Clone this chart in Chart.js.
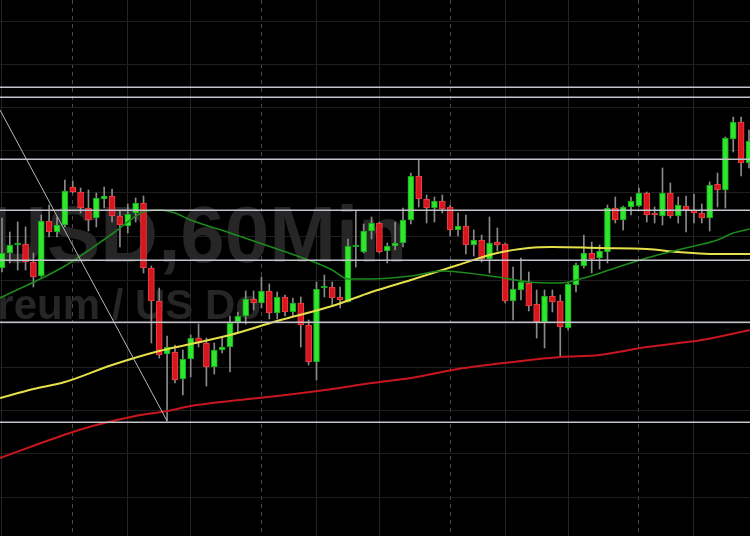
<!DOCTYPE html>
<html>
<head>
<meta charset="utf-8">
<script src="https://cdn.jsdelivr.net/npm/chart.js@4.4.1/dist/chart.umd.min.js"></script>
<style>
html,body{margin:0;padding:0;background:#000;}
canvas{display:block;}
</style>
</head>
<body>
<canvas id="grafico" width="750" height="536"></canvas>
<script>
// velas de 60 minutos (ETHUSD)
const apertura = [
  1766, 1773.5, 1777.5, 1778, 1769, 1762, 1789.5, 1784, 1787.5, 1806.5,
  1804, 1796, 1791, 1800.5, 1802, 1792, 1787, 1793.5, 1798.5, 1766,
  1749.5, 1723, 1724, 1710.5, 1720.5, 1731, 1728.5, 1716.5, 1725, 1726.5,
  1739, 1742, 1750.5, 1748.5, 1754.5, 1743.5, 1751.5, 1744, 1748.5, 1737.5,
  1719, 1756, 1756.5, 1751.5, 1749, 1776.5, 1774, 1784.5, 1788.5, 1774.5,
  1777, 1778.5, 1790, 1812, 1800.5, 1796, 1799.5, 1796.5, 1785, 1787,
  1777.5, 1780, 1770.5, 1779, 1778, 1749.5, 1755, 1758.5, 1748, 1739,
  1752, 1749.5, 1736, 1757.5, 1767, 1773.5, 1771, 1774, 1796, 1790,
  1796.5, 1797, 1803.5, 1793, 1792, 1803.5, 1792, 1797, 1795, 1793.5,
  1791, 1808, 1805, 1830.5, 1839, 1818.5
];
const maximo = [
  1791, 1784, 1789, 1786.5, 1773.5, 1792.5, 1797.5, 1791.5, 1810, 1809.5,
  1806, 1805, 1803.5, 1806.5, 1805.5, 1794.5, 1798, 1801, 1802, 1767,
  1756, 1732, 1727.5, 1725, 1732.5, 1738, 1731, 1728.5, 1731.5, 1742,
  1744, 1754.5, 1754.5, 1761.5, 1758, 1754, 1752.5, 1751, 1751.5, 1740,
  1759, 1762.5, 1759, 1756.5, 1780.5, 1794.5, 1788, 1791.5, 1789, 1778.5,
  1789, 1796, 1813.5, 1820, 1802.5, 1801.5, 1802.5, 1797.5, 1793.5, 1792.5,
  1785, 1782.5, 1791.5, 1786, 1778.5, 1766.5, 1771, 1764, 1755, 1755,
  1755, 1752.5, 1759, 1768.5, 1782.5, 1779, 1777.5, 1797.5, 1801.5, 1797,
  1801.5, 1806, 1804, 1796.5, 1816, 1808.5, 1801.5, 1802, 1803, 1798,
  1809, 1813.5, 1831.5, 1841.5, 1841.5, 1835
];
const minimo = [
  1764, 1768.5, 1765, 1765, 1756.5, 1761.5, 1781.5, 1781.5, 1786.5, 1803.5,
  1793.5, 1784.5, 1786.5, 1796, 1789, 1776.5, 1783.5, 1789, 1763.5, 1728.5,
  1721, 1689.5, 1708.5, 1702.5, 1711.5, 1726.5, 1707, 1713, 1723.5, 1714,
  1733.5, 1738, 1745, 1746, 1740.5, 1740.5, 1742, 1741.5, 1726.5, 1717.5,
  1710, 1751.5, 1747.5, 1746, 1749, 1766.5, 1773.5, 1780.5, 1773.5, 1768.5,
  1775, 1776.5, 1788, 1796.5, 1788.5, 1789, 1793.5, 1782, 1782, 1773,
  1772, 1769, 1763.5, 1774.5, 1748.5, 1740, 1750, 1744.5, 1731, 1726,
  1744, 1721.5, 1735, 1754, 1766, 1763.5, 1765.5, 1768.5, 1788.5, 1785,
  1792.5, 1796.5, 1789, 1788.5, 1787.5, 1791, 1788.5, 1784, 1788.5, 1788.5,
  1784.5, 1796.5, 1796, 1824, 1812, 1816
];
const cierre = [
  1773.5, 1777.5, 1778.5, 1769, 1761.5, 1789.5, 1784, 1787.5, 1804.5, 1804,
  1796, 1790, 1801, 1802, 1792, 1787.5, 1793, 1798.5, 1766, 1749.5,
  1722.5, 1726.5, 1710, 1720.5, 1731, 1728.5, 1716.5, 1725, 1726.5, 1738.5,
  1742, 1750.5, 1748.5, 1754.5, 1743.5, 1751.5, 1744, 1748.5, 1737.5, 1719,
  1755.5, 1756.5, 1751, 1750, 1777, 1777, 1784.5, 1788.5, 1774, 1777,
  1778.5, 1790, 1812, 1800.5, 1796, 1799.5, 1795.5, 1785, 1787, 1777.5,
  1780, 1770.5, 1778.5, 1777.5, 1749.5, 1755.5, 1759, 1747, 1739, 1752,
  1749, 1736.5, 1758, 1767.5, 1773.5, 1770.5, 1774.5, 1796, 1790, 1796.5,
  1799.5, 1803.5, 1792.5, 1792.5, 1803.5, 1792, 1797.5, 1795, 1793.5, 1791,
  1807.5, 1805, 1831, 1839, 1818.5, 1829.5
];
const velas = apertura.map((_, i) => i);

// medias moviles (posicion de vela, precio)
const mediaVerdeX = [-0.25, 8, 14, 18, 20, 22, 24, 29, 35, 40, 42, 44, 47, 52, 56, 58, 63, 67, 71, 74, 78, 82, 87, 91, 93, 95.13];
const mediaVerdeY = [1751, 1767, 1783, 1794, 1795, 1793.5, 1790, 1783.5, 1775.5, 1768.5, 1765, 1760.5, 1760.5, 1762, 1764.5, 1764, 1761.5, 1759, 1758.5, 1761, 1766, 1771, 1776, 1780, 1783.5, 1785.5];
const mediaAmarillaX = [-0.25, 4, 8, 14, 20, 24, 29, 35, 42, 47, 52, 58, 63, 67, 70, 76, 82, 86, 90, 95.13];
const mediaAmarillaY = [1701, 1705.5, 1709, 1717.5, 1724.5, 1728, 1732.5, 1739.5, 1747, 1754, 1760, 1767.5, 1773.5, 1776, 1776.5, 1776, 1775.5, 1774, 1773, 1773];
const mediaRojaX = [-0.25, 9, 12, 17, 21, 24, 29, 35, 42, 47, 52, 58, 65, 71, 76, 82, 89, 95.13];
const mediaRojaY = [1671, 1684, 1687.5, 1692, 1694.5, 1697, 1699.5, 1702, 1705.5, 1708.5, 1711, 1715.5, 1719, 1721.5, 1722.5, 1726.5, 1730, 1735];

// linea de tendencia dibujada (hasta el minimo de la vela 21)
const tendenciaX = [-0.25, 21];
const tendenciaY = [1845, 1689.5];

// niveles horizontales
const niveles = [1856.5, 1851.5, 1820.5, 1795, 1770, 1739, 1689];

// rejilla
const lineasHora = [0, 16, 24, 40, 48, 64, 72, 88];
const lineasDia = [9, 33, 57, 81];
const lineasPrecio = [1889.5, 1868, 1846.5, 1825, 1803.5, 1782, 1760, 1738.5, 1716.5, 1695, 1673.5, 1651.5];

const simbolo = "ETHUSD,60Min";
const descripcion = "Ethereum / US Dollar";

const alcista = i => cierre[i] >= apertura[i];

const fondo = {
  id: 'fondo',
  beforeDraw(chart){
    const c = chart.ctx;
    c.save();
    c.fillStyle = '#000';
    c.fillRect(0, 0, chart.width, chart.height);
    c.restore();
  },
  beforeDatasetsDraw(chart){
    const c = chart.ctx;
    c.save();
    c.fillStyle = '#262626';
    c.textBaseline = 'alphabetic';
    c.font = 'bold 80px "Liberation Sans", Arial, sans-serif';
    c.fillText(simbolo, 47 - c.measureText("ETHU").width, 262);
    c.font = 'bold 42px "Liberation Sans", Arial, sans-serif';
    c.beginPath();
    c.rect(0, 270, 262, 70);
    c.clip();
    c.fillText(descripcion, 135 - c.measureText("Ethereum / ").width, 319);
    c.restore();
  },
  afterDatasetsDraw(chart){
    const c = chart.ctx, y = chart.scales.y, a = chart.chartArea;
    c.save();
    c.strokeStyle = '#c4c4cc';
    c.lineWidth = 1.5;
    niveles.forEach(v => {
      const py = Math.round(y.getPixelForValue(v)) + 0.25;
      c.beginPath();
      c.moveTo(a.left, py);
      c.lineTo(a.right, py);
      c.stroke();
    });
    c.restore();
  }
};

const puntos = (xs, ys) => xs.map((x, i) => ({x: x, y: ys[i]}));

const lineaMedia = (label, xs, ys, color, ancho) => ({
  type: 'line',
  label: label,
  data: puntos(xs, ys),
  borderColor: color,
  borderWidth: ancho,
  pointRadius: 0,
  cubicInterpolationMode: 'monotone',
  order: 1
});

new Chart(document.getElementById('grafico'), {
  data: {
    datasets: [
      {
        type: 'bar',
        label: 'mechas',
        data: velas.map(i => ({x: i, y: [minimo[i], maximo[i]]})),
        backgroundColor: '#8a8a8a',
        barThickness: 1,
        grouped: false,
        order: 3
      },
      {
        type: 'bar',
        label: 'cuerpos',
        data: velas.map(i => ({x: i, y: [apertura[i], cierre[i]]})),
        backgroundColor: ctx => alcista(ctx.dataIndex) ? '#2ee62e' : '#d8161e',
        borderColor: ctx => alcista(ctx.dataIndex) ? '#17a317' : '#f0434a',
        borderWidth: 1,
        borderSkipped: false,
        barThickness: 6,
        minBarLength: 2,
        grouped: false,
        order: 2
      },
      lineaMedia('MA verde', mediaVerdeX, mediaVerdeY, '#1c8a1c', 1.6),
      lineaMedia('MA amarilla', mediaAmarillaX, mediaAmarillaY, '#e6e04a', 2),
      lineaMedia('MA roja', mediaRojaX, mediaRojaY, '#c8161e', 2),
      {
        type: 'line',
        label: 'tendencia',
        data: puntos(tendenciaX, tendenciaY),
        borderColor: '#b8b8b8',
        borderWidth: 1,
        pointRadius: 0,
        order: 0
      }
    ]
  },
  options: {
    responsive: false,
    animation: false,
    layout: {padding: 0, autoPadding: false},
    plugins: {legend: {display: false}, tooltip: {enabled: false}},
    scales: {
      x: {
        type: 'linear', min: -0.25, max: 95.13, offset: false,
        ticks: {display: false},
        grid: {color: '#242424', drawTicks: false, offset: false},
        border: {display: false},
        afterBuildTicks: s => { s.ticks = lineasHora.map(v => ({value: v})); }
      },
      x2: {
        type: 'linear', min: -0.25, max: 95.13, offset: false,
        ticks: {display: false},
        grid: {color: '#4a4a4a', drawTicks: false, offset: false},
        border: {display: false, dash: [4, 4]},
        afterBuildTicks: s => { s.ticks = lineasDia.map(v => ({value: v})); }
      },
      y: {
        min: 1632, max: 1900,
        ticks: {display: false},
        grid: {color: '#1e1e1e', drawTicks: false},
        border: {display: false},
        afterBuildTicks: s => { s.ticks = lineasPrecio.map(v => ({value: v})); }
      }
    }
  },
  plugins: [fondo]
});
</script>
</body>
</html>
